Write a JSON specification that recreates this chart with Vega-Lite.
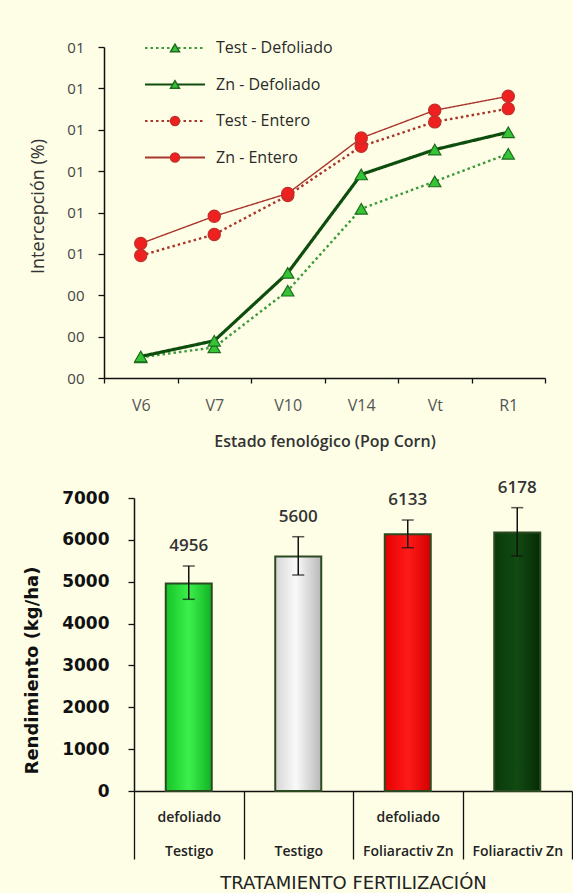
{
  "$schema": "https://vega.github.io/schema/vega-lite/v6.json",
  "background": "#fefee6",
  "padding": {"left": 23, "top": 40, "right": 0, "bottom": 0},
  "config": {"view": {"stroke": null}, "font": "Open Sans", "axis": {"grid": false}},
  "spacing": 29,
  "vconcat": [
    {
      "width": 441,
      "height": 331,
      "data": {"values": [
        {"serie": "Test - Defoliado", "estado": "V6", "valor": 0.250},
        {"serie": "Test - Defoliado", "estado": "V7", "valor": 0.274},
        {"serie": "Test - Defoliado", "estado": "V10", "valor": 0.411},
        {"serie": "Test - Defoliado", "estado": "V14", "valor": 0.609},
        {"serie": "Test - Defoliado", "estado": "Vt", "valor": 0.675},
        {"serie": "Test - Defoliado", "estado": "R1", "valor": 0.742},
        {"serie": "Zn - Defoliado", "estado": "V6", "valor": 0.252},
        {"serie": "Zn - Defoliado", "estado": "V7", "valor": 0.290},
        {"serie": "Zn - Defoliado", "estado": "V10", "valor": 0.454},
        {"serie": "Zn - Defoliado", "estado": "V14", "valor": 0.692},
        {"serie": "Zn - Defoliado", "estado": "Vt", "valor": 0.752},
        {"serie": "Zn - Defoliado", "estado": "R1", "valor": 0.794},
        {"serie": "Test - Entero", "estado": "V6", "valor": 0.496},
        {"serie": "Test - Entero", "estado": "V7", "valor": 0.547},
        {"serie": "Test - Entero", "estado": "V10", "valor": 0.641},
        {"serie": "Test - Entero", "estado": "V14", "valor": 0.760},
        {"serie": "Test - Entero", "estado": "Vt", "valor": 0.819},
        {"serie": "Test - Entero", "estado": "R1", "valor": 0.851},
        {"serie": "Zn - Entero", "estado": "V6", "valor": 0.525},
        {"serie": "Zn - Entero", "estado": "V7", "valor": 0.591},
        {"serie": "Zn - Entero", "estado": "V10", "valor": 0.646},
        {"serie": "Zn - Entero", "estado": "V14", "valor": 0.780},
        {"serie": "Zn - Entero", "estado": "Vt", "valor": 0.847},
        {"serie": "Zn - Entero", "estado": "R1", "valor": 0.881}
      ]},
      "encoding": {
        "x": {
          "field": "estado", "type": "ordinal",
          "sort": ["V6", "V7", "V10", "V14", "Vt", "R1"],
          "scale": {"type": "band", "paddingInner": 0, "paddingOuter": 0},
          "axis": {
            "title": "Estado fenológico (Pop Corn)",
            "titleFontSize": 16, "titleFontWeight": 600, "titleColor": "#333",
            "titlePadding": 20,
            "labelFontSize": 16, "labelColor": "#555", "labelAngle": 0, "labelPadding": 14,
            "tickBand": "extent", "tickSize": 5, "tickColor": "#111", "tickWidth": 1.3,
            "domainColor": "#111", "domainWidth": 1.5
          }
        },
        "y": {
          "field": "valor", "type": "quantitative",
          "scale": {"domain": [0.2, 1.0], "nice": false, "zero": false},
          "axis": {
            "title": "Intercepción (%)",
            "titleFontSize": 18, "titleFontWeight": "normal", "titleColor": "#333", "titlePadding": 19,
            "titleY": 159,
            "values": [0.2, 0.3, 0.4, 0.5, 0.6, 0.7, 0.8, 0.9, 1.0],
            "labelExpr": "datum.value >= 0.45 ? '01' : '00'",
            "labelFontSize": 15, "labelColor": "#444", "labelPadding": 14,
            "tickSize": 6, "tickColor": "#111", "tickWidth": 1.3,
            "domainColor": "#111", "domainWidth": 1.5
          }
        }
      },
      "layer": [
        {
          "mark": {"type": "line"},
          "encoding": {
            "color": {
              "field": "serie", "type": "nominal",
              "scale": {"domain": ["Test - Defoliado", "Zn - Defoliado", "Test - Entero", "Zn - Entero"], "range": ["#3a9a3a", "#0d4d0d", "#a8352d", "#a8352d"]},
              "legend": {
                "orient": "none", "legendX": 63, "legendY": -7, "title": null,
                "symbolType": "M-5,0H5", "symbolSize": 144, "symbolStrokeWidth": 2.2, "padding": 0,
                "labelFontSize": 16, "labelColor": "#2a2a2a", "labelOffset": 33, "rowPadding": 20.5
              }
            },
            "strokeDash": {
              "field": "serie", "type": "nominal",
              "scale": {"domain": ["Test - Defoliado", "Zn - Defoliado", "Test - Entero", "Zn - Entero"], "range": [[2.5, 3], [1, 0], [2.5, 3], [1, 0]]}
            },
            "strokeWidth": {
              "condition": [
                {"test": "datum.serie === 'Zn - Defoliado'", "value": 3.2},
                {"test": "datum.serie === 'Zn - Entero'", "value": 1.4}
              ],
              "value": 2.4
            }
          }
        },
        {
          "mark": {"type": "point", "filled": true, "size": 150, "strokeWidth": 1.2, "opacity": 1},
          "encoding": {
            "shape": {
              "field": "serie", "type": "nominal",
              "scale": {"domain": ["Test - Defoliado", "Zn - Defoliado", "Test - Entero", "Zn - Entero"], "range": ["triangle-up", "triangle-up", "circle", "circle"]},
              "legend": {
                "orient": "top-left", "offset": -7, "title": null, "symbolOffset": 70,
                "symbolSize": 80, "padding": 0,
                "labelFontSize": 16, "labelOpacity": 0, "labelOffset": 33, "rowPadding": 20.5
              }
            },
            "fill": {
              "field": "serie", "type": "nominal",
              "scale": {"domain": ["Test - Defoliado", "Zn - Defoliado", "Test - Entero", "Zn - Entero"], "range": ["#35c435", "#35c435", "#ee2020", "#ee2020"]}
            },
            "stroke": {
              "field": "serie", "type": "nominal",
              "scale": {"domain": ["Test - Defoliado", "Zn - Defoliado", "Test - Entero", "Zn - Entero"], "range": ["#1e6b1e", "#1e6b1e", "#c03028", "#c03028"]}
            }
          }
        }
      ]
    },
    {
      "width": 468,
      "height": 293,
      "data": {"values": [
        {"trat": "Testigo defoliado", "rend": 4956, "lo": 4580, "hi": 5375},
        {"trat": "Testigo", "rend": 5600, "lo": 5160, "hi": 6075},
        {"trat": "Foliaractiv Zn defoliado", "rend": 6133, "lo": 5812, "hi": 6474},
        {"trat": "Foliaractiv Zn", "rend": 6178, "lo": 5614, "hi": 6769}
      ]},
      "encoding": {
        "x": {
          "field": "trat", "type": "nominal",
          "sort": ["Testigo defoliado", "Testigo", "Foliaractiv Zn defoliado", "Foliaractiv Zn"],
          "scale": {"paddingInner": 0, "paddingOuter": 0, "range": [30, 468]},
          "axis": {
            "title": "TRATAMIENTO  FERTILIZACIÓN",
            "titleFont": "DejaVu Sans", "titleFontSize": 18, "titleFontWeight": "normal", "titleColor": "#222", "titlePadding": 15,
            "labelExpr": "indexof(datum.label, 'defoliado') >= 0 ? ['defoliado', replace(datum.label, ' defoliado', '')] : ['', datum.label]",
            "labelFontSize": 14, "labelFontWeight": 600, "labelColor": "#222", "labelAngle": 0, "labelLineHeight": 34,
            "labelPadding": -49, "labelOverlap": false, "labelBaseline": "top",
            "tickBand": "extent", "tickSize": 68, "tickColor": "#111", "tickWidth": 1.3,
            "domainColor": "#111", "domainWidth": 1.5
          }
        }
      },
      "layer": [
        {
          "mark": {"type": "bar", "width": {"band": 0.42}, "stroke": "#2b4a22", "strokeWidth": 2},
          "encoding": {
            "y": {
              "field": "rend", "type": "quantitative",
              "scale": {"domain": [0, 7000], "nice": false},
              "axis": {
                "title": "Rendimiento  (kg/ha)", "offset": -30,
                "titleFont": "DejaVu Sans", "titleFontSize": 18, "titleFontWeight": "bold", "titleColor": "#111", "titlePadding": 20,
                "titleY": 172,
                "values": [0, 1000, 2000, 3000, 4000, 5000, 6000, 7000], "format": "d",
                "labelFont": "DejaVu Sans", "labelFontSize": 17, "labelFontWeight": "bold", "labelColor": "#111", "labelPadding": 19,
                "tickSize": 6, "tickColor": "#111", "tickWidth": 1.3,
                "domainColor": "#111", "domainWidth": 1.5
              }
            },
            "fill": {
              "condition": [
                {"test": "datum.trat === 'Testigo defoliado'", "value": {"gradient": "linear", "x1": 0, "y1": 0, "x2": 1, "y2": 0, "stops": [{"offset": 0, "color": "#16c428"}, {"offset": 0.5, "color": "#3cf04c"}, {"offset": 1, "color": "#12b324"}]}},
                {"test": "datum.trat === 'Testigo'", "value": {"gradient": "linear", "x1": 0, "y1": 0, "x2": 1, "y2": 0, "stops": [{"offset": 0, "color": "#d6d6d6"}, {"offset": 0.45, "color": "#fafafa"}, {"offset": 1, "color": "#b8b8b8"}]}},
                {"test": "datum.trat === 'Foliaractiv Zn defoliado'", "value": {"gradient": "linear", "x1": 0, "y1": 0, "x2": 1, "y2": 0, "stops": [{"offset": 0, "color": "#e60000"}, {"offset": 0.5, "color": "#ff1a1a"}, {"offset": 1, "color": "#d40000"}]}}
              ],
              "value": {"gradient": "linear", "x1": 0, "y1": 0, "x2": 1, "y2": 0, "stops": [{"offset": 0, "color": "#0a3a0a"}, {"offset": 0.5, "color": "#114a12"}, {"offset": 1, "color": "#062a06"}]}
            }
          }
        },
        {
          "mark": {"type": "errorbar", "ticks": {"size": 12, "thickness": 1.5, "color": "#111"}, "rule": {"strokeWidth": 1.5, "color": "#111"}},
          "encoding": {
            "y": {"field": "lo", "type": "quantitative", "title": "Rendimiento  (kg/ha)"},
            "y2": {"field": "hi"}
          }
        },
        {
          "mark": {"type": "text", "dy": -20, "fontSize": 17, "fontWeight": 600, "color": "#333", "baseline": "middle"},
          "encoding": {
            "y": {"field": "hi", "type": "quantitative", "title": "Rendimiento  (kg/ha)"},
            "text": {"field": "rend", "type": "quantitative", "format": "d"}
          }
        }
      ]
    }
  ]
}
